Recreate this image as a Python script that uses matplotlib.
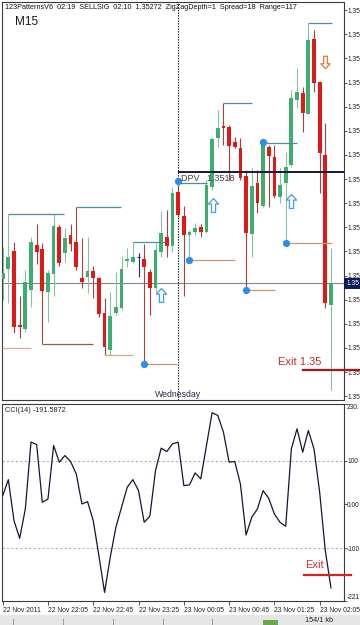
import numpy as np
import matplotlib
matplotlib.use('Agg')
import matplotlib.pyplot as plt
import matplotlib.transforms as mtransforms
from matplotlib.patches import Rectangle
from matplotlib.lines import Line2D

plt.rcParams['font.family'] = ['Liberation Sans', 'DejaVu Sans']

# candles, oldest first (bar index 0..58)
opens = [1.35293, 1.35313, 1.35351, 1.35197, 1.35189, 1.35270, 1.35363, 1.35355, 1.35266, 1.35303,
         1.35400, 1.35347, 1.35384, 1.35369, 1.35295, 1.35297, 1.35309, 1.35295, 1.35222, 1.35145,
         1.35222, 1.35232, 1.35330, 1.35328, 1.35338, 1.35334, 1.35307, 1.35274, 1.35349, 1.35380,
         1.35361, 1.35473, 1.35423, 1.35384, 1.35390, 1.35400, 1.35390, 1.35483, 1.35585, 1.35610,
         1.35608, 1.35577, 1.35564, 1.35506, 1.35386, 1.35492, 1.35444, 1.35566, 1.35546, 1.35463,
         1.35492, 1.35529, 1.35664, 1.35678, 1.35635, 1.35790, 1.35701, 1.35550, 1.35239]
highs = [1.35359, 1.35427, 1.35369, 1.35257, 1.35311, 1.35380, 1.35407, 1.35367, 1.35311, 1.35427,
         1.35405, 1.35398, 1.35407, 1.35442, 1.35378, 1.35380, 1.35320, 1.35297, 1.35253, 1.35266,
         1.35307, 1.35338, 1.35357, 1.35369, 1.35347, 1.35365, 1.35313, 1.35367, 1.35434, 1.35436,
         1.35483, 1.35496, 1.35444, 1.35394, 1.35409, 1.35407, 1.35498, 1.35587, 1.35643, 1.35657,
         1.35612, 1.35587, 1.35585, 1.35519, 1.35523, 1.35519, 1.35577, 1.35570, 1.35570, 1.35523,
         1.35556, 1.35684, 1.35730, 1.35691, 1.35823, 1.35809, 1.35701, 1.35616, 1.35357]
lows = [1.35249, 1.35243, 1.35181, 1.35170, 1.35183, 1.35235, 1.35324, 1.35158, 1.35203, 1.35257,
        1.35320, 1.35328, 1.35351, 1.35311, 1.35274, 1.35264, 1.35253, 1.35214, 1.35135, 1.35135,
        1.35218, 1.35228, 1.35318, 1.35326, 1.35297, 1.35116, 1.35218, 1.35266, 1.35338, 1.35338,
        1.35349, 1.35421, 1.35257, 1.35332, 1.35384, 1.35380, 1.35388, 1.35477, 1.35566, 1.35570,
        1.35498, 1.35564, 1.35498, 1.35270, 1.35338, 1.35429, 1.35442, 1.35442, 1.35461, 1.35450,
        1.35367, 1.35525, 1.35647, 1.35597, 1.35635, 1.35680, 1.35471, 1.35232, 1.35063]
closes = [1.35305, 1.35338, 1.35193, 1.35193, 1.35286, 1.35369, 1.35349, 1.35268, 1.35305, 1.35402,
          1.35326, 1.35378, 1.35365, 1.35318, 1.35286, 1.35309, 1.35295, 1.35220, 1.35152, 1.35216,
          1.35235, 1.35313, 1.35334, 1.35338, 1.35338, 1.35318, 1.35274, 1.35353, 1.35388, 1.35361,
          1.35471, 1.35425, 1.35384, 1.35390, 1.35398, 1.35390, 1.35487, 1.35583, 1.35606, 1.35606,
          1.35568, 1.35566, 1.35502, 1.35388, 1.35485, 1.35450, 1.35575, 1.35548, 1.35465, 1.35487,
          1.35525, 1.35668, 1.35680, 1.35637, 1.35788, 1.35699, 1.35554, 1.35243, 1.35284]

cci = [20.2, 57.0, -37.2, -77.7, -10.3, 143.0, 137.5, 5.1, 12.6, 135.2,
       97.0, 112.2, 98.4, 70.1, 1.1, 6.4, -37.2, -117.7, -201.9, -121.4,
       -52.4, -6.4, 39.5, 57.0, 31.7, -40.9, -27.1, 77.7, 129.2, 121.4,
       139.1, 143.0, 43.2, 44.8, 72.4, 58.6, 135.2, 210.4, 204.2, 166.0,
       97.0, 98.4, 47.1, -70.1, -29.4, -10.3, 31.7, 14.3, -21.8, -40.9,
       -50.1, 127.6, 173.6, 120.0, 169.7, 127.6, 28.1, -106.3, -191.5872]

# 123 pattern swing highs / lows (bar index from, to, price)
hi_start = [1, 13, 23, 31, 39, 46, 54]
hi_end = [10.8, 20.9, 28.7, 36.1, 44.0, 52.0, 58.2]
hi_price = [1.35427, 1.35442, 1.35369, 1.35492, 1.35657, 1.35575, 1.35823]
lo_start = [-0.1, 7, 18, 25, 33, 43, 50]
lo_end = [5.0, 16.0, 23.0, 30.8, 41.0, 48.1, 58.2]
lo_price = [1.35150, 1.35158, 1.35135, 1.35116, 1.35332, 1.35270, 1.35367]
dot_idx = [31, 46, 25, 33, 43, 50]
dot_price = [1.35496, 1.35577, 1.35116, 1.35332, 1.35270, 1.35367]
up_idx = [27.9, 37.1, 51.0]
up_price = [1.35259, 1.35446, 1.35455]
dn_idx = [57.0]
dn_price = [1.35742]

dpv_price = 1.35514
exit_price = 1.35104
exit_cci = -161.0
day_sep = 31

time_idx = [0, 8, 16, 24, 32, 40, 48, 56]
time_labels = ['22 Nov 2011', '22 Nov 22:05', '22 Nov 22:45', '22 Nov 23:25',
               '23 Nov 00:05', '23 Nov 00:45', '23 Nov 01:25', '23 Nov 02:05']
price_ticks = [1.3505 + 0.0005 * k for k in range(17)]
# the right scale is cut by the window edge, only "1.35" shows
price_tick_labels = ['1.35'] * len(price_ticks)
cci_ticks = [-221.5, -100, 0, 100, 230.5]
cci_tick_labels = ['-221', '-100', '0.00', '100', '230.']

W, H = 360, 625
def rect(x0, y0, x1, y1):
    return [x0 / W, 1 - y1 / H, (x1 - x0) / W, (y1 - y0) / H]
def ftext(x, y, s, **kw):
    return fig.text(x / W, 1 - y / H, s, **kw)

fig = plt.figure(figsize=(3.6, 6.25), dpi=100, facecolor='white')
ax = fig.add_axes(rect(2, 2, 344, 400))
ax2 = fig.add_axes(rect(2, 404, 344, 601))

frame = '#3a3a3a'
for a in (ax, ax2):
    for s in a.spines.values():
        s.set_color(frame)
        s.set_linewidth(0.8)
    a.set_xlim(-0.12, 60.3)
    a.yaxis.tick_right()
    a.tick_params(axis='y', direction='out', length=1.8, width=0.6, color=frame,
                  labelsize=4.8, pad=0.4, labelcolor='#222222')

# ---- candles
x = np.arange(len(opens))
o = np.array(opens); c = np.array(closes); h = np.array(highs); l = np.array(lows)
up = c > o
dn = c < o
dj = c == o
red, green = '#e01818', '#3cae6e'
ax.vlines(x[up], l[up], h[up], color='#86c4a0', lw=0.8, zorder=2)
ax.vlines(x[dn], l[dn], h[dn], color='#a84040', lw=0.8, zorder=2)
ax.vlines(x[dj], l[dj], h[dj], color='#1a2a6a', lw=0.8, zorder=2)
body = np.maximum(np.abs(c - o), 0.00003)
ax.bar(x[up], body[up], bottom=o[up], width=0.66, color=green, lw=0, zorder=3)
ax.bar(x[dn], body[dn], bottom=c[dn], width=0.66, color=red, lw=0, zorder=3)
ax.hlines(o[dj], x[dj] - 0.3, x[dj] + 0.3, color='#1a2a6a', lw=0.8, zorder=3)

# swing lines
ax.hlines(hi_price, hi_start, hi_end, color='#4a8fa0', lw=0.9, zorder=4)
lo_cols = ['#d8ab8a', '#9a5844', '#d8a482', '#d4956a', '#d4956a', '#d4956a', '#d4956a']
ax.hlines(lo_price, lo_start, lo_end, colors=lo_cols, lw=0.9, zorder=4)
ax.plot(dot_idx, dot_price, 'o', ms=4.2, color='#2a8ef0', mec='#2a8ef0', zorder=6)

up_arrow = [(0, 1), (-0.75, 0.2), (-0.3, 0.2), (-0.3, -1), (0.3, -1), (0.3, 0.2), (0.75, 0.2), (0, 1)]
dn_arrow = [(px, -py) for px, py in up_arrow]
ax.plot(up_idx, up_price, ls='none', marker=up_arrow, ms=10, mfc='white', mec='#4a9ae0', mew=0.9, zorder=6)
ax.plot(dn_idx, dn_price, ls='none', marker=dn_arrow, ms=9, mfc='white', mec='#e0783a', mew=0.9, zorder=6)

# current price, DPV, day separator, exit
ax.axhline(closes[-1], color='#7a8a8a', lw=0.8, zorder=1)
ax.hlines(dpv_price, day_sep, 60.3, color='#15183f', lw=1.4, zorder=5)
ax.text(day_sep + 0.5, dpv_price - 0.00003, 'DPV   1.3518', fontsize=6.5, color='#404040',
        va='top', ha='left', zorder=7)
ax.axvline(day_sep, color='#111111', lw=0.8, ls=(0, (1.2, 1.2)), zorder=1)
ax.text(day_sep, 1.35045, 'Wednesday', fontsize=6.3, color='#2a2a50', ha='center', va='bottom')
ax.add_line(Line2D([53.1, 63.2], [exit_price, exit_price], color='#b01414', lw=1.6,
                   clip_on=False, zorder=7))
ax.text(48.6, exit_price + 0.00017, 'Exit 1.35', fontsize=8, color='#c82828', ha='left', va='center')

ax.set_ylim(1.35042, 1.35867)
ax.set_yticks(price_ticks)
ax.set_yticklabels(price_tick_labels)
ax.set_xticks([])
bt = mtransforms.blended_transform_factory(ax.transAxes, ax.transData)
ax.text(1.006, closes[-1], '1.35', transform=bt, fontsize=4.8, color='white',
        va='center', ha='left', zorder=8,
        bbox=dict(boxstyle='square,pad=0.3', fc='#0c1c58', ec='none'))

# ---- CCI
ax2.plot(x, cci, color='#151530', lw=0.9, zorder=3)
for lv in (100, -100):
    ax2.axhline(lv, color='#b0b0b0', lw=0.8, ls=(0, (2, 2)), zorder=1)
ax2.add_line(Line2D([53.2, 61.6], [exit_cci, exit_cci], color='#e02020', lw=1.6,
                    clip_on=False, zorder=5))
ax2.text(53.5, exit_cci + 23, 'Exit', fontsize=8, color='#d03030', ha='left', va='center')
ax2.set_ylim(-221.5, 230.5)
ax2.set_yticks(cci_ticks)
ax2.set_yticklabels(cci_tick_labels)
ylabs = ax2.get_yticklabels()
ylabs[0].set_va('bottom')
ylabs[-1].set_va('top')
ax2.set_xticks(time_idx)
ax2.set_xticklabels(time_labels)
for t in ax2.get_xticklabels():
    t.set_ha('left')
ax2.tick_params(axis='x', direction='out', length=3, width=0.6, color=frame,
                labelsize=4.9, pad=1.5, labelcolor='#222222')

# ---- texts
ftext(5, 7.5, '123PatternsV6  02:19  SELLSIG  02:10  1.35272  ZigZagDepth=1  Spread=18  Range=117',
      fontsize=5.2, color='#111111', va='center', ha='left')
ftext(15, 22, 'M15', fontsize=8.5, color='#1a1a1a', va='center', ha='left')
ftext(5, 411, 'CCI(14) -191.5872', fontsize=5.2, color='#222222', va='center', ha='left')

# ---- status bar
fig.add_artist(Rectangle((0, 0), 1, 10 / H, transform=fig.transFigure, fc='#e6e6e6', ec='none'))
for sx in (13, 63, 113, 163, 212):
    fig.add_artist(Line2D([sx / W, sx / W], [0, 6 / H], transform=fig.transFigure, color='#999999', lw=0.7))
fig.add_artist(Rectangle((263 / W, 0), 15 / W, 5 / H, transform=fig.transFigure, fc='#6aa84f', ec='none'))
ftext(305, 621, '154/1 kb', fontsize=5.2, color='#222222', va='center', ha='left')

fig.savefig('out.png', dpi=100, facecolor='white')
